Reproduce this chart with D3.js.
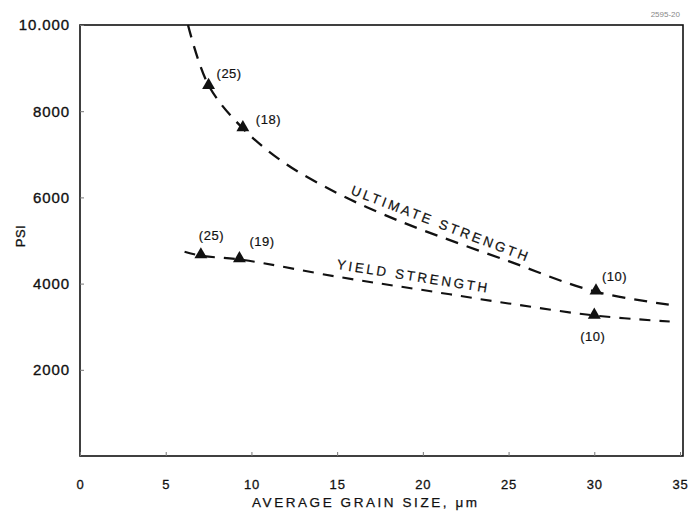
<!DOCTYPE html>
<html><head><meta charset="utf-8">
<script src="https://cdn.jsdelivr.net/npm/d3@7"></script>
<style>body{margin:0;background:#fff}svg{display:block}text{font-family:"Liberation Sans",Arial,sans-serif;fill:#111}</style>
</head><body>
<svg id="c" width="689" height="516"></svg>
<script>
// data
const ultX = [6.3, 7.5, 9.5, 12, 15, 17.5, 20, 25, 30, 34.4];
const ultY = [10000, 8600, 7600, 6780, 6100, 5640, 5240, 4520, 3820, 3510];
const yldX = [6.1, 7, 9.5, 15, 20, 25, 30, 34.4];
const yldY = [4740, 4650, 4550, 4160, 3850, 3540, 3260, 3120];
const ultPtsX = [7.5, 9.5, 30.1];
const ultPtsY = [8580, 7600, 3810];
const ultN = ["(25)", "(18)", "(10)"];
const yldPtsX = [7.05, 9.3, 30];
const yldPtsY = [4650, 4560, 3250];
const yldN = ["(25)", "(19)", "(10)"];
const xTicks = [0, 5, 10, 15, 20, 25, 30, 35];
const yTicks = [2000, 4000, 6000, 8000, 10000];
const yTickLabels = ["2000", "4000", "6000", "8000", "10.000"];

const svg = d3.select("#c");
const x = d3.scaleLinear().domain([0, 35]).range([80, 680]);
const y = d3.scaleLinear().domain([0, 10000]).range([456, 25]);

// frame
svg.append("rect").attr("x", x(0)).attr("y", y(10000))
  .attr("width", x(35) + 3 - x(0)).attr("height", y(0) - y(10000))
  .attr("fill", "none").attr("stroke", "#111").attr("stroke-width", 1.6);

// axes
const xa = svg.append("g").attr("transform", `translate(0,${y(0)})`)
  .call(d3.axisBottom(x).tickValues(xTicks).tickSize(-4).tickPadding(24));
xa.select(".domain").remove();
xa.selectAll("line").attr("stroke", "#777");
xa.selectAll("text").attr("font-size", 13).attr("fill", "#111").attr("letter-spacing", 0.8)
  .attr("stroke", "#111").attr("stroke-width", 0.3);

const ya = svg.append("g").attr("transform", `translate(${x(0)},0)`)
  .call(d3.axisLeft(y).tickValues(yTicks).tickFormat((d, i) => yTickLabels[i]).tickSize(-4).tickPadding(10));
ya.select(".domain").remove();
ya.selectAll("line").attr("stroke", "#777");
ya.selectAll("text").attr("font-size", 15).attr("fill", "#111").attr("letter-spacing", 0.9)
  .attr("stroke", "#111").attr("stroke-width", 0.35);

// titles
svg.append("text").attr("x", 22).attr("y", 236).attr("transform", "rotate(-90,22,236)")
  .attr("text-anchor", "middle").attr("dominant-baseline", "middle").attr("font-size", 13)
  .attr("letter-spacing", 0.5).attr("stroke", "#111").attr("stroke-width", 0.3).text("PSI");
svg.append("text").attr("x", 252).attr("y", 507)
  .attr("font-size", 13.5).attr("textLength", 225).attr("lengthAdjust", "spacing")
  .attr("stroke", "#111").attr("stroke-width", 0.25).text("AVERAGE GRAIN SIZE, μm");
svg.append("text").attr("x", 680).attr("y", 17).attr("text-anchor", "end")
  .attr("font-size", 8).style("fill", "#888").text("2595-20");

// curves
const line = d3.line().x(d => x(d[0])).y(d => y(d[1])).curve(d3.curveCatmullRom.alpha(0.5));
svg.append("path").datum(ultX.map((v, i) => [v, ultY[i]])).attr("d", line)
  .attr("fill", "none").attr("stroke", "#111").attr("stroke-width", 2.3).attr("stroke-dasharray", "13,9");
svg.append("path").datum(yldX.map((v, i) => [v, yldY[i]])).attr("d", line)
  .attr("fill", "none").attr("stroke", "#111").attr("stroke-width", 2.1).attr("stroke-dasharray", "11,9");

// markers
const tri = d3.symbol().type(d3.symbolTriangle).size(72);
function pts(xs, ys) {
  svg.append("g").selectAll("path").data(xs).join("path")
    .attr("d", tri).attr("fill", "#111")
    .attr("transform", (d, i) => `translate(${x(d)},${y(ys[i]) - 1})`);
}
pts(ultPtsX, ultPtsY);
pts(yldPtsX, yldPtsY);

// count labels
const ultOff = [[8, -12], [13, -8], [6, -14]];
const yldOff = [[-2, -19], [10, -17], [-14, 22]];
function lbls(xs, ys, ns, offs) {
  svg.append("g").selectAll("text").data(xs).join("text")
    .attr("x", (d, i) => x(d) + offs[i][0]).attr("y", (d, i) => y(ys[i]) + offs[i][1])
    .attr("dominant-baseline", "middle").attr("font-size", 13).attr("letter-spacing", 0.5)
    .attr("stroke", "#111").attr("stroke-width", 0.2).text((d, i) => ns[i]);
}
lbls(ultPtsX, ultPtsY, ultN, ultOff);
lbls(yldPtsX, yldPtsY, yldN, yldOff);

// curve labels
svg.append("text").attr("transform", `translate(${x(15.75)},${y(6079)}) rotate(21)`)
  .attr("font-size", 13.5).attr("textLength", 188).attr("lengthAdjust", "spacing")
  .attr("stroke", "#111").attr("stroke-width", 0.2).text("ULTIMATE STRENGTH");
svg.append("text").attr("transform", `translate(${x(14.95)},${y(4343)}) rotate(9)`)
  .attr("font-size", 13.5).attr("textLength", 152).attr("lengthAdjust", "spacing")
  .attr("stroke", "#111").attr("stroke-width", 0.2).text("YIELD STRENGTH");
</script>
</body></html>
